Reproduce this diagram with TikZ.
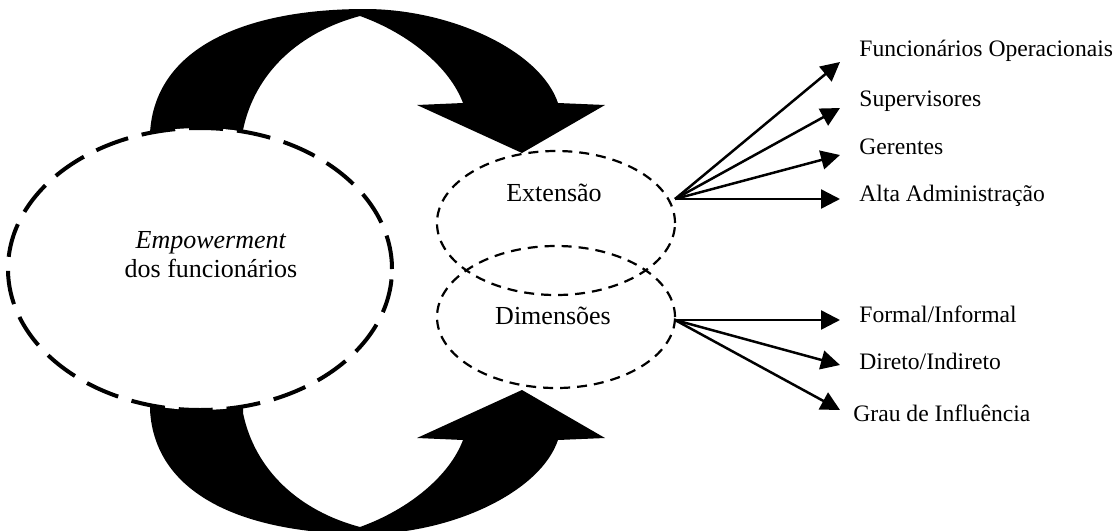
\documentclass[tikz,border=0pt]{standalone}
\usepackage{fontspec}
\setmainfont{Liberation Serif}
\usepackage{tikz}
\usetikzlibrary{shapes.geometric,arrows.meta}
\tikzset{bigoval/.style={ellipse, draw, line width=2pt, dash pattern=on 17pt off 7pt,
                         fill=white, minimum width=192pt, minimum height=141pt, inner sep=0pt},
         oval/.style={ellipse, draw, line width=1.1pt, dash pattern=on 5pt off 3.5pt,
                      minimum width=119pt, minimum height=72pt, inner sep=0pt},
         txt/.style={font=\fontsize{13}{14.5}\selectfont, align=center},
         lbl/.style={anchor=west, inner sep=0pt, font=\fontsize{11.8}{13}\selectfont},
         arr/.style={line width=1.25pt, -{Triangle[length=9.5pt,width=9.5pt]}},
         band/.style={fill=black}}
\newcommand{\loopband}{%
	(150,165) -- (150,133) .. controls (155,45) and (250,9) .. (365,9)
	.. controls (450,9) and (540,50) .. (558,103) -- (605,105) -- (522,153)
	-- (417,105) -- (463,103) .. controls (450,68) and (410,34) .. (360,16)
	.. controls (300,32) and (255,72) .. (243,130) -- (243,165) -- cycle}

\begin{document}
\begin{tikzpicture}[x=0.5pt, y=-0.5pt]
	\clip (0,0) rectangle (1116,531);
	\fill[band] \loopband;
	\begin{scope}[shift={(0,543)}, yscale=-1]
		\fill[band] \loopband;
	\end{scope}
	\node[bigoval] (emp) at (200,269) {};
	\node[txt] (emptext) at (211,255) {\textit{Empowerment}\\dos funcionários};
	\node[oval] (ext) at (556,223) {};
	\node[oval, minimum height=71pt] (dim) at (556,317) {};
	\node[txt] (exttext) at (554,193) {Extensão};
	\node[txt] (dimtext) at (553,316) {Dimensões};
	\coordinate (ext-out) at (675,199);
	\coordinate (dim-out) at (675,320);
	\foreach \nm/\ty/\ly/\txt in {fo/62/51/{Funcionários Operacionais}, su/108/101/{Supervisores},
	                              ge/155/147/{Gerentes}, al/199/196/{Alta Administração}}{
		\node[lbl] (\nm) at (859,\ly) {\txt};
		\coordinate (\nm-tip) at (840,\ty);
		\draw[arr] (ext-out) -- (\nm-tip);
	}
	\foreach \nm/\ty/\ly/\lx/\txt in {fi/320/314/859/{Formal/Informal}, di/365/361/859/{Direto/Indireto},
	                                  gr/410/413/853/{Grau de Influência}}{
		\node[lbl] (\nm) at (\lx,\ly) {\txt};
		\coordinate (\nm-tip) at (840,\ty);
		\draw[arr] (dim-out) -- (\nm-tip);
	}
\end{tikzpicture}
\end{document}
